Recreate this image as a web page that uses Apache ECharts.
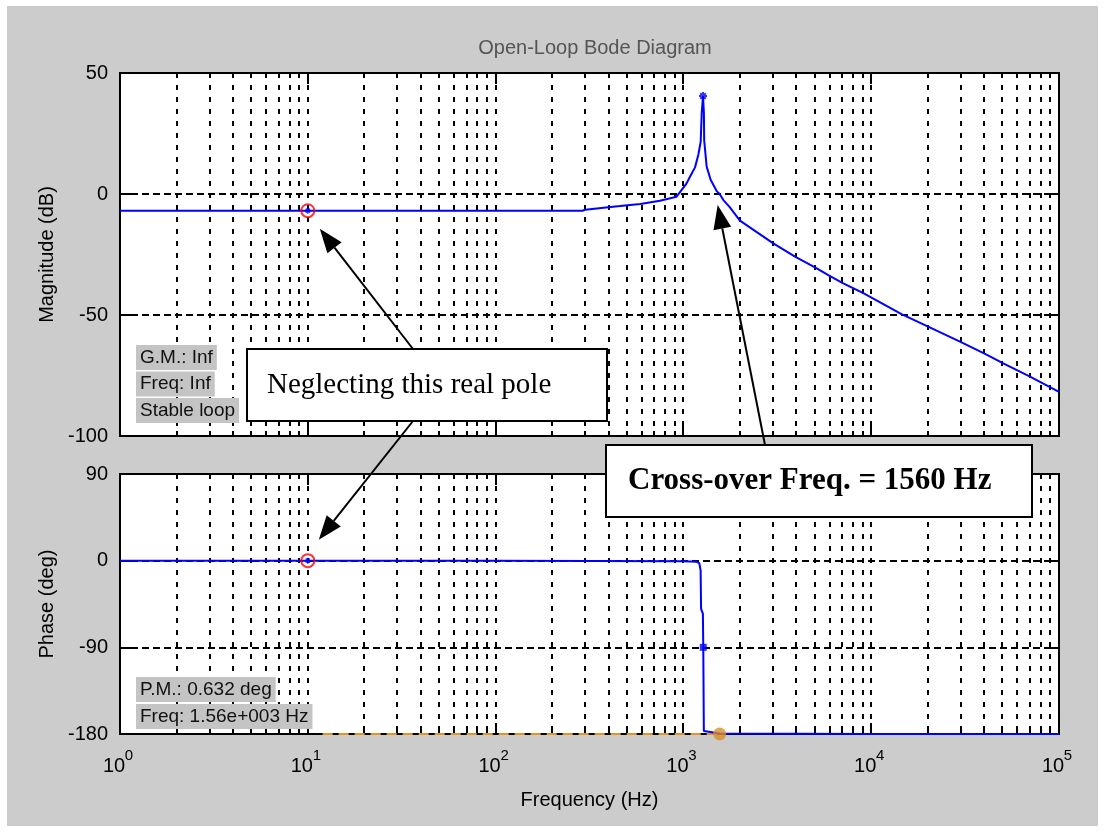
<!DOCTYPE html>
<html>
<head>
<meta charset="utf-8">
<title>Open-Loop Bode Diagram</title>
<script src="https://cdn.jsdelivr.net/npm/echarts@6/dist/echarts.min.js"></script>
<style>
  html, body { margin: 0; padding: 0; background: #ffffff; }
  #wrap { position: relative; width: 1105px; height: 832px; }
  #bg { position: absolute; left: 7px; top: 6px; width: 1091px; height: 820px; background: #cccccc; }
  #chart { position: absolute; left: 0; top: 0; width: 1105px; height: 832px; }
</style>
</head>
<body>
<div id="wrap"><div id="bg"></div><div id="chart"></div></div>
<script>
// ---- axis ticks ----
const freqTicks = [1, 10, 100, 1000, 10000, 100000];
const magTicks = [-100, -50, 0, 50];
const phaseTicks = [-180, -90, 0, 90];

// ---- open-loop magnitude response (Hz, dB) ----
const magFreq = [1, 10, 100, 290, 300, 460, 590, 750, 920, 1040, 1084, 1153, 1200, 1236, 1252, 1272,
  1286, 1290, 1330, 1398, 1504, 1560, 1632, 1756, 2000, 3010, 3930, 5020, 5910, 7100, 9080,
  14500, 20100, 29700, 40400, 50500, 70100, 100000];
const magDb = [-6.9, -6.9, -6.9, -6.9, -6.5, -5.0, -4.1, -2.8, -1.1, 4.4, 7.1, 11.0, 16.1, 21.6, 33.5, 40.5,
  33.3, 22.3, 11.3, 5.8, 1.2, 0, -2.5, -5.2, -11.0, -20.4, -25.9, -30.3, -33.5, -36.9, -41.0,
  -49.6, -54.8, -61.0, -66.1, -70.0, -75.5, -81.8];

// ---- open-loop phase response (Hz, deg) ----
const phaseFreq = [1, 100, 1000, 1170, 1215, 1235, 1242, 1270, 1276, 1285, 1300, 1560, 10000, 100000];
const phaseDeg = [0, -0.1, -0.6, -1.0, -2.5, -10, -50, -55, -90, -177, -178.8, -179.37, -179.9, -180];

// ---- marked points ----
const pole = { freq: 10, magDb: -6.9, phaseDeg: 0 };
const peak = { freq: 1272, magDb: 40.5 };
const phaseMark = { freq: 1276, deg: -90 };
const crossover = { freq: 1560, magDb: 0, phaseDeg: -180 };
const pmLineFreq = [12, 1560];
const pmLineDeg = [-180, -180];

// ---- stability readouts ----
const gmLines = ['G.M.: Inf', 'Freq: Inf', 'Stable loop'];
const pmLines = ['P.M.: 0.632 deg', 'Freq: 1.56e+003 Hz'];

// grid line positions along the frequency axis: decades plus 2..9 per decade
const gridFreqs = [];
for (let i = 0; i < freqTicks.length - 1; i++) {
  const d = freqTicks[i];
  if (i > 0) gridFreqs.push([d, 1]);
  for (let k = 2; k <= 9; k++) gridFreqs.push([k * d, 0]);
}

const SANS = '"Liberation Sans", Arial, sans-serif';
const SERIF = '"Liberation Serif", "Times New Roman", serif';
const BLUE = '#0000ff';
const ORANGE = '#e0952a';

function zip(a, b) { return a.map((v, i) => [v, b[i]]); }

function renderGridLines(params, api) {
  const f = api.value(0);
  const major = api.value(1) === 1;
  const x = Math.round(api.coord([f, 0])[0]);
  const cs = params.coordSys;
  const top = cs.y, bot = cs.y + cs.height;
  const len = major ? 11 : 5;
  return {
    type: 'group',
    children: [
      { type: 'line', shape: { x1: x, y1: top, x2: x, y2: bot },
        style: { stroke: '#000', lineWidth: 2, lineDash: [5, 7] } },
      { type: 'line', shape: { x1: x, y1: top, x2: x, y2: top + len },
        style: { stroke: '#000', lineWidth: 2 } },
      { type: 'line', shape: { x1: x, y1: bot - len, x2: x, y2: bot },
        style: { stroke: '#000', lineWidth: 2 } }
    ]
  };
}

const asterisk = 'path://M0,5L10,5M5,0L5,10M1.5,1.5L8.5,8.5M8.5,1.5L1.5,8.5';

// frequency axis; the decade labels are split into a base "10" axis and an exponent axis
function xAxisFor(gridIndex, labelKind) {
  let axisLabel = { show: false };
  if (labelKind === 'base') {
    axisLabel = { show: true, margin: 22, padding: [0, 12, 0, 0], fontSize: 20, fontFamily: SANS, color: '#000',
      formatter: () => '10' };
  } else if (labelKind === 'exp') {
    axisLabel = { show: true, margin: 14, padding: [0, 0, 0, 18], fontSize: 15, fontFamily: SANS, color: '#000',
      formatter: v => String(Math.round(Math.log10(v))) };
  }
  return {
    gridIndex, type: 'log', logBase: 10, min: freqTicks[0], max: freqTicks[freqTicks.length - 1],
    position: 'bottom', offset: 0,
    axisLine: { show: false }, axisTick: { show: false }, splitLine: { show: false },
    axisLabel,
    name: labelKind === 'base' ? 'Frequency (Hz)' : '',
    nameLocation: 'middle', nameGap: 56,
    nameTextStyle: { fontSize: 20, fontFamily: SANS, color: '#000' }
  };
}

function yAxisFor(gridIndex, ticks, interval, name, right) {
  return {
    gridIndex, type: 'value', min: ticks[0], max: ticks[ticks.length - 1], interval,
    position: right ? 'right' : 'left',
    axisLine: { show: false },
    axisTick: { show: true, inside: true, length: 11, lineStyle: { color: '#000', width: 2 } },
    axisLabel: right ? { show: false } : { show: true, margin: 12, fontSize: 20, fontFamily: SANS, color: '#000' },
    splitLine: right ? { show: false } : { show: true, lineStyle: { color: '#000', width: 2, type: [7, 4] } },
    name: right ? '' : name,
    nameLocation: 'middle', nameGap: 62, nameRotate: 90,
    nameTextStyle: { fontSize: 20, fontFamily: SANS, color: '#000' }
  };
}

const chart = echarts.init(document.getElementById('chart'), null, { renderer: 'canvas' });

chart.setOption({
  animation: false,
  backgroundColor: 'transparent',
  title: {
    text: 'Open-Loop Bode Diagram', left: 590, top: 33, textAlign: 'center',
    textStyle: { fontSize: 20, fontWeight: 'normal', fontFamily: SANS, color: '#555555' }
  },
  grid: [
    { left: 120, top: 73, width: 939, height: 363, show: true, backgroundColor: '#ffffff', borderColor: '#000', borderWidth: 2 },
    { left: 120, top: 474, width: 939, height: 260, show: true, backgroundColor: '#ffffff', borderColor: '#000', borderWidth: 2 }
  ],
  xAxis: [xAxisFor(0, null), xAxisFor(1, 'base'), xAxisFor(1, 'exp')],
  yAxis: [
    yAxisFor(0, magTicks, 50, 'Magnitude (dB)', false),
    yAxisFor(1, phaseTicks, 90, 'Phase (deg)', false),
    yAxisFor(0, magTicks, 50, '', true),
    yAxisFor(1, phaseTicks, 90, '', true)
  ],
  series: [
    { type: 'custom', xAxisIndex: 0, yAxisIndex: 0, data: gridFreqs, renderItem: renderGridLines, silent: true, z: 1 },
    { type: 'custom', xAxisIndex: 1, yAxisIndex: 1, data: gridFreqs, renderItem: renderGridLines, silent: true, z: 1 },
    { name: 'Magnitude', type: 'line', xAxisIndex: 0, yAxisIndex: 0, data: zip(magFreq, magDb),
      showSymbol: false, lineStyle: { color: BLUE, width: 2 }, silent: true, z: 3 },
    { name: 'Phase', type: 'line', xAxisIndex: 1, yAxisIndex: 1, data: zip(phaseFreq, phaseDeg),
      showSymbol: false, lineStyle: { color: BLUE, width: 2 }, silent: true, z: 3 },
    { name: 'PM reference', type: 'line', xAxisIndex: 1, yAxisIndex: 1, data: zip(pmLineFreq, pmLineDeg),
      showSymbol: false, lineStyle: { color: ORANGE, width: 2, type: [10, 6] }, silent: true, z: 2 },
    // pole markers: red ring with blue centre
    { type: 'scatter', xAxisIndex: 0, yAxisIndex: 0, data: [[pole.freq, pole.magDb]], symbol: 'circle', symbolSize: 13,
      itemStyle: { color: 'rgba(0,0,0,0)', borderColor: '#ff0000', borderWidth: 2 }, silent: true, z: 6 },
    { type: 'scatter', xAxisIndex: 1, yAxisIndex: 1, data: [[pole.freq, pole.phaseDeg]], symbol: 'circle', symbolSize: 13,
      itemStyle: { color: 'rgba(0,0,0,0)', borderColor: '#ff0000', borderWidth: 2 }, silent: true, z: 6 },
    { type: 'scatter', xAxisIndex: 0, yAxisIndex: 0, data: [[pole.freq, pole.magDb]], symbol: asterisk, symbolSize: 6,
      itemStyle: { color: 'rgba(0,0,0,0)', borderColor: BLUE, borderWidth: 1.5 }, silent: true, z: 7 },
    { type: 'scatter', xAxisIndex: 1, yAxisIndex: 1, data: [[pole.freq, pole.phaseDeg]], symbol: asterisk, symbolSize: 6,
      itemStyle: { color: 'rgba(0,0,0,0)', borderColor: BLUE, borderWidth: 1.5 }, silent: true, z: 7 },
    // resonant peak marker
    { type: 'scatter', xAxisIndex: 0, yAxisIndex: 0, data: [[peak.freq, peak.magDb]], symbol: asterisk, symbolSize: 8,
      itemStyle: { color: 'rgba(0,0,0,0)', borderColor: BLUE, borderWidth: 2 }, silent: true, z: 7 },
    // -90 deg phase marker
    { type: 'scatter', xAxisIndex: 1, yAxisIndex: 1, data: [[phaseMark.freq, phaseMark.deg]], symbol: 'rect', symbolSize: 7,
      itemStyle: { color: BLUE }, silent: true, z: 7 },
    // crossover phase marker
    { type: 'scatter', xAxisIndex: 1, yAxisIndex: 1, data: [[crossover.freq, crossover.phaseDeg]], symbol: 'circle', symbolSize: 13,
      itemStyle: { color: '#d9902a' }, silent: true, z: 8 }
  ]
});

// ---- annotations: readout labels, callout boxes and arrows ----
function arrow(x1, y1, x2, y2) {
  const dx = x2 - x1, dy = y2 - y1, L = Math.hypot(dx, dy);
  const ux = dx / L, uy = dy / L, head = 24, half = 9;
  const bx = x2 - ux * head, by = y2 - uy * head;
  return [
    { type: 'line', shape: { x1, y1, x2: bx, y2: by }, style: { stroke: '#000', lineWidth: 2 }, z: 20 },
    { type: 'polygon', shape: { points: [[x2, y2], [bx - uy * half, by + ux * half], [bx + uy * half, by - ux * half]] },
      style: { fill: '#000' }, z: 20 }
  ];
}

function readout(text, x, y) {
  return { type: 'text', z: 15, style: {
    text, x, y, font: '19px ' + SANS, fill: '#111', backgroundColor: '#c4c4c4', padding: [3, 4, 3, 4],
    align: 'left', verticalAlign: 'top', textAlign: 'left', textVerticalAlign: 'top' } };
}

const polePx = chart.convertToPixel({ gridIndex: 0 }, [pole.freq, pole.magDb]);
const polePhasePx = chart.convertToPixel({ gridIndex: 1 }, [pole.freq, pole.phaseDeg]);
const crossPx = chart.convertToPixel({ gridIndex: 0 }, [crossover.freq, crossover.magDb]);

const poleBox = { x: 247, y: 349, w: 360, h: 72 };
const crossBox = { x: 606, y: 445, w: 426, h: 72 };

const elements = [];
gmLines.forEach((t, i) => elements.push(readout(t, 136, 345 + i * 26.5)));
pmLines.forEach((t, i) => elements.push(readout(t, 136, 677 + i * 27)));

elements.push(...arrow(413, poleBox.y, polePx[0] + 12, polePx[1] + 18));
elements.push(...arrow(413, poleBox.y + poleBox.h, polePhasePx[0] + 11, polePhasePx[1] - 21));
elements.push(...arrow(765, crossBox.y, crossPx[0] - 2, crossPx[1] + 11));

elements.push({ type: 'rect', z: 30, shape: { x: poleBox.x, y: poleBox.y, width: poleBox.w, height: poleBox.h },
  style: { fill: '#ffffff', stroke: '#000', lineWidth: 2 } });
elements.push({ type: 'text', z: 31, style: { text: 'Neglecting this real pole', x: poleBox.x + 20, y: poleBox.y + poleBox.h / 2,
  font: '29px ' + SERIF, fill: '#000', align: 'left', verticalAlign: 'middle', textAlign: 'left', textVerticalAlign: 'middle' } });
elements.push({ type: 'rect', z: 30, shape: { x: crossBox.x, y: crossBox.y, width: crossBox.w, height: crossBox.h },
  style: { fill: '#ffffff', stroke: '#000', lineWidth: 2 } });
elements.push({ type: 'text', z: 31, style: { text: 'Cross-over Freq. = 1560 Hz', x: crossBox.x + 22, y: crossBox.y + crossBox.h / 2,
  font: 'bold 31px ' + SERIF, fill: '#000', align: 'left', verticalAlign: 'middle', textAlign: 'left', textVerticalAlign: 'middle' } });

chart.setOption({ graphic: { elements } });
</script>
</body>
</html>
